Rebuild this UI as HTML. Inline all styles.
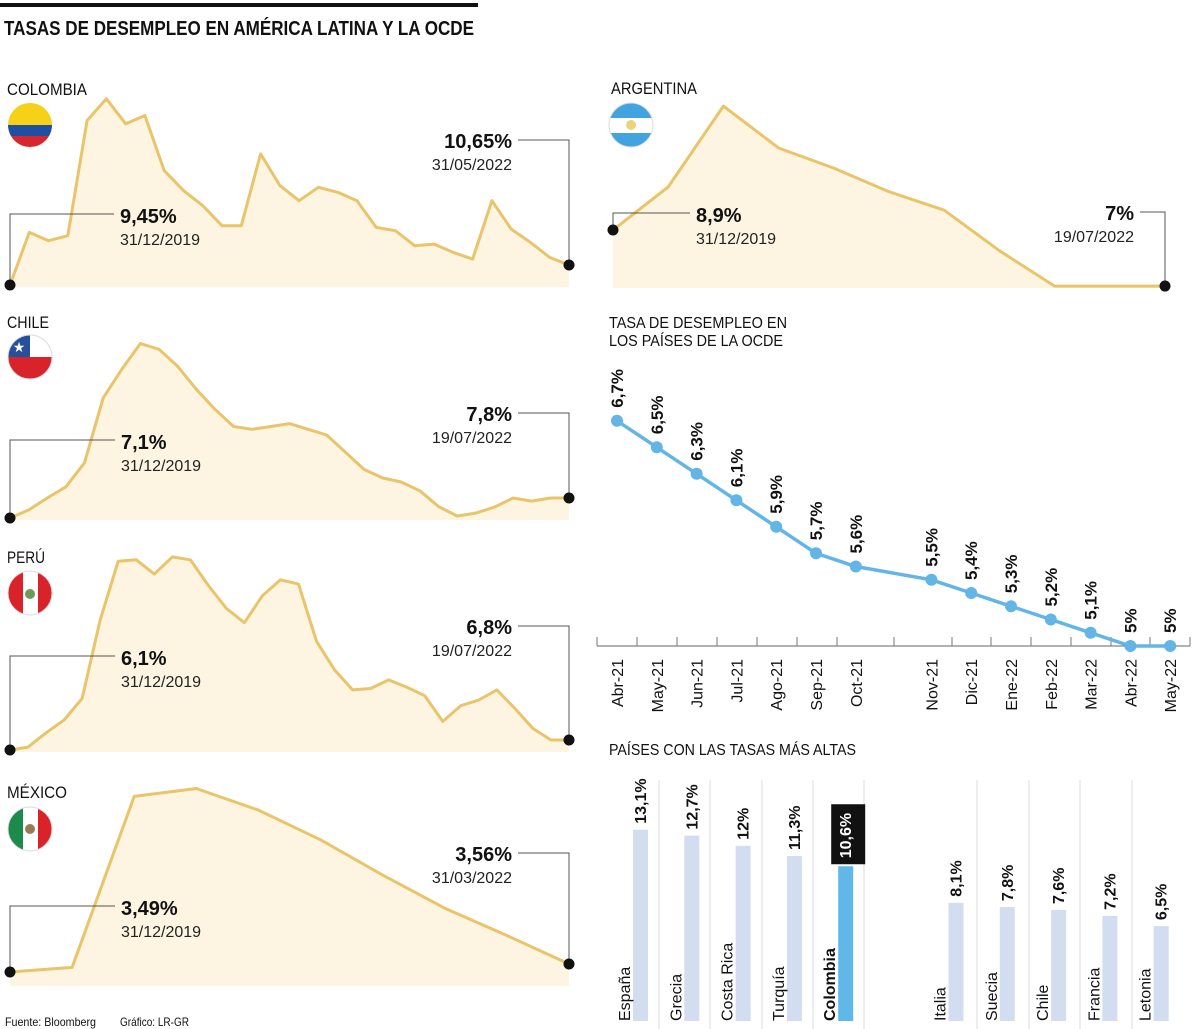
<!DOCTYPE html>
<html><head><meta charset="utf-8">
<style>
html,body{margin:0;padding:0;background:#fff;}
svg{display:block;font-family:"Liberation Sans",sans-serif;}
</style></head>
<body>
<svg id="chart" width="1200" height="1029" viewBox="0 0 1200 1029" xmlns="http://www.w3.org/2000/svg">
  <rect x="0" y="3" width="478" height="4" fill="#111"/>
  <text x="4" y="35" font-size="20" font-weight="bold" fill="#111" textLength="470" lengthAdjust="spacingAndGlyphs">TASAS DE DESEMPLEO EN AMÉRICA LATINA Y LA OCDE</text>

  <text x="7" y="95" font-size="17" fill="#111" textLength="80" lengthAdjust="spacingAndGlyphs">COLOMBIA</text>
  <text x="611" y="94" font-size="17" fill="#111" textLength="86" lengthAdjust="spacingAndGlyphs">ARGENTINA</text>
  <text x="7" y="328" font-size="17" fill="#111" textLength="42" lengthAdjust="spacingAndGlyphs">CHILE</text>
  <text x="7" y="563" font-size="17" fill="#111" textLength="38" lengthAdjust="spacingAndGlyphs">PERÚ</text>
  <text x="7" y="798" font-size="17" fill="#111" textLength="60" lengthAdjust="spacingAndGlyphs">MÉXICO</text>

  <defs>
    <clipPath id="cCol"><circle cx="30" cy="125" r="22"/></clipPath>
    <clipPath id="cArg"><circle cx="631" cy="125" r="22"/></clipPath>
    <clipPath id="cChi"><circle cx="30" cy="357" r="22"/></clipPath>
    <clipPath id="cPer"><circle cx="30" cy="593" r="22"/></clipPath>
    <clipPath id="cMex"><circle cx="30" cy="829" r="22"/></clipPath>
  </defs>
  <g clip-path="url(#cCol)">
    <rect x="8" y="103" width="44" height="22" fill="#f7d117"/><rect x="8" y="125" width="44" height="11" fill="#1f4fa3"/><rect x="8" y="136" width="44" height="11" fill="#d8262e"/>
  </g>
  <g clip-path="url(#cArg)">
    <rect x="609" y="103" width="44" height="15" fill="#41a3e0"/><rect x="609" y="118" width="44" height="15" fill="#fff"/><rect x="609" y="133" width="44" height="15" fill="#41a3e0"/>
    <circle cx="631" cy="125" r="5" fill="#ecd37b"/>
  </g>
  <circle cx="631" cy="125" r="22" fill="none" stroke="#ddd" stroke-width="1"/>
  <g clip-path="url(#cChi)">
    <rect x="8" y="335" width="44" height="22" fill="#fff"/><rect x="8" y="335" width="22" height="22" fill="#24509c"/><rect x="8" y="357" width="44" height="22" fill="#d8232a"/>
    <text x="19" y="352" font-size="14" fill="#fff" text-anchor="middle">★</text>
  </g>
  <circle cx="30" cy="357" r="22" fill="none" stroke="#ddd" stroke-width="1"/>
  <g clip-path="url(#cPer)">
    <rect x="8" y="571" width="15" height="44" fill="#d8232a"/><rect x="23" y="571" width="15" height="44" fill="#fff"/><rect x="38" y="571" width="15" height="44" fill="#d8232a"/>
    <circle cx="30" cy="594" r="5" fill="#6a9a5a"/>
  </g>
  <circle cx="30" cy="593" r="22" fill="none" stroke="#ddd" stroke-width="1"/>
  <g clip-path="url(#cMex)">
    <rect x="8" y="807" width="15" height="44" fill="#1b8a4a"/><rect x="23" y="807" width="15" height="44" fill="#fff"/><rect x="38" y="807" width="15" height="44" fill="#d8232a"/>
    <circle cx="30" cy="829" r="5" fill="#9a7a55"/>
  </g>
  <circle cx="30" cy="829" r="22" fill="none" stroke="#ddd" stroke-width="1"/>

  <g id="areas"></g>
  <g id="ocde"></g>
  <g id="bars"></g>

  <text x="609" y="328" font-size="16" fill="#111" textLength="178" lengthAdjust="spacingAndGlyphs">TASA DE DESEMPLEO EN</text>
  <text x="609" y="346" font-size="16" fill="#111" textLength="174" lengthAdjust="spacingAndGlyphs">LOS PAÍSES DE LA OCDE</text>
  <text x="609" y="755" font-size="16" fill="#111" textLength="247" lengthAdjust="spacingAndGlyphs">PAÍSES CON LAS TASAS MÁS ALTAS</text>

  <text x="5" y="1026" font-size="12" fill="#111" textLength="91" lengthAdjust="spacingAndGlyphs">Fuente: Bloomberg</text>
  <text x="120" y="1026" font-size="12" fill="#111" textLength="69" lengthAdjust="spacingAndGlyphs">Gráfico: LR-GR</text>
</svg>
<script>
const NS = "http://www.w3.org/2000/svg";
function mk(tag, attrs, parent, txt){
  const e = document.createElementNS(NS, tag);
  for (const k in attrs) e.setAttribute(k, attrs[k]);
  if (txt !== undefined) e.textContent = txt;
  parent.appendChild(e);
  return e;
}

const colombiaValues = [9.45,12.6,12.1,12.4,19.3,20.6,19.1,19.6,16.3,15.1,14.2,13.0,13.0,17.3,15.4,14.5,15.3,15.0,14.5,12.9,12.7,11.8,11.9,11.4,11.0,14.5,12.8,12.0,11.1,10.65];
const argentinaValues = [8.9,10.36,13.1,11.68,11.0,10.2,9.57,8.2,7.0,7.0,7.0];
const chileValues = [7.1,7.38,7.8,8.19,9.03,11.3,12.3,13.2,13.0,12.4,11.6,10.9,10.3,10.2,10.3,10.4,10.2,10.0,9.4,8.8,8.5,8.36,8.05,7.5,7.17,7.27,7.48,7.8,7.69,7.8,7.8];
const peruValues = [6.1,6.3,7.3,8.2,9.7,15.2,19.3,19.4,18.4,19.6,19.4,17.6,16.0,15.0,16.9,18.0,17.7,13.7,11.7,10.3,10.4,11.0,10.5,9.9,8.1,9.2,9.6,10.3,9.0,7.6,6.8,6.8];
const mexicoValues = [3.49,3.53,5.03,5.10,4.91,4.65,4.34,4.05,3.81,3.56];
const panelLabels = [
  ["9,45%","31/12/2019","10,65%","31/05/2022"],
  ["8,9%","31/12/2019","7%","19/07/2022"],
  ["7,1%","31/12/2019","7,8%","19/07/2022"],
  ["6,1%","31/12/2019","6,8%","19/07/2022"],
  ["3,49%","31/12/2019","3,56%","31/03/2022"]
];

const panels = [
  {name:"colombia", vals:colombiaValues, x0:10, x1:569, base:287, yRef:285, k:16.7, sY:214, sX:114, eY:140, eX:518},
  {name:"argentina", vals:argentinaValues, x0:613, x1:1165, base:288, yRef:230, k:29.5, sY:213, sX:690, eY:212, eX:1140},
  {name:"chile", vals:chileValues, x0:10, x1:569, base:520, yRef:518, k:28.6, sY:440, sX:115, eY:413, eX:518},
  {name:"peru", vals:peruValues, x0:10, x1:569, base:752, yRef:750, k:14.3, sY:656, sX:115, eY:626, eX:518},
  {name:"mexico", vals:mexicoValues, x0:10, x1:569, base:986, yRef:972, k:114, sY:906, sX:115, eY:853, eX:518}
];
const areas = document.getElementById("areas");
panels.forEach((p, pi) => {
  const n = p.vals.length;
  const xs = i => p.x0 + (p.x1 - p.x0) * i / (n - 1);
  const ys = v => p.yRef - (v - p.vals[0]) * p.k;
  const g = mk("g", {}, areas);
  
  
  let pts = p.vals.map((v,i) => xs(i).toFixed(1) + "," + ys(v).toFixed(1));
  const area = mk("polygon", {points: p.x0+","+p.base+" "+pts.join(" ")+" "+p.x1+","+p.base, fill:"#fdf5e1"}, g);
  
  
  const line = mk("polyline", {points: pts.join(" "), fill:"none", stroke:"#e9c46a", "stroke-width":3, "stroke-linejoin":"round"}, g);
  
  
  const sx = xs(0), sy = ys(p.vals[0]), ex = xs(n-1), ey = ys(p.vals[n-1]);
  const c1 = mk("polyline", {points: `${sx},${sy} ${sx},${p.sY} ${p.sX},${p.sY}`, fill:"none", stroke:"#555", "stroke-width":1}, g);
  
  
  const c2 = mk("polyline", {points: `${ex},${ey} ${ex},${p.eY} ${p.eX},${p.eY}`, fill:"none", stroke:"#555", "stroke-width":1}, g);
  
  
  const d1 = mk("circle", {cx:sx, cy:sy, r:5.5, fill:"#111"}, g);
  
  
  const d2 = mk("circle", {cx:ex, cy:ey, r:5.5, fill:"#111"}, g);
  
  
  const L = panelLabels[pi];
  const t1 = mk("text", {x:p.sX+6, y:p.sY+9, "font-size":20, "font-weight":"bold", fill:"#111"}, g, L[0]);
  
  
  const t2 = mk("text", {x:p.sX+6, y:p.sY+31, "font-size":16, fill:"#222"}, g, L[1]);
  
  
  const t3 = mk("text", {x:p.eX-6, y:p.eY+8, "font-size":20, "font-weight":"bold", fill:"#111", "text-anchor":"end"}, g, L[2]);
  
  
  const t4 = mk("text", {x:p.eX-6, y:p.eY+30, "font-size":16, fill:"#222", "text-anchor":"end"}, g, L[3]);
  
  
});

const ocdeMonths = ["Abr-21","May-21","Jun-21","Jul-21","Ago-21","Sep-21","Oct-21","Nov-21","Dic-21","Ene-22","Feb-22","Mar-22","Abr-22","May-22"];
const ocdeSlot = [0,1,2,3,4,5,6,7.9,8.9,9.9,10.9,11.9,12.9,13.9];
const ocdeValues = [6.7,6.5,6.3,6.1,5.9,5.7,5.6,5.5,5.4,5.3,5.2,5.1,5.0,5.0];
const ocdeLabels = ["6,7%","6,5%","6,3%","6,1%","5,9%","5,7%","5,6%","5,5%","5,4%","5,3%","5,2%","5,1%","5%","5%"];
const ocde = document.getElementById("ocde");
const ox = s => 617 + s * 39.8;
const oy = v => 646 - (v - 5) * 132.5;
const axis = mk("line", {x1:597, y1:646, x2:1190, y2:646, stroke:"#666", "stroke-width":1}, ocde);


const tickXs = [597,637,677,717,757,797,837,894,952,991,1031,1071,1111,1150,1190];
tickXs.forEach(tx => {
  const t = mk("line", {x1:tx, y1:637, x2:tx, y2:646, stroke:"#777", "stroke-width":1}, ocde);
  
  
});
const opl = mk("polyline", {points: ocdeValues.map((v,i)=>ox(ocdeSlot[i]).toFixed(1)+","+oy(v).toFixed(1)).join(" "), fill:"none", stroke:"#62b5e5", "stroke-width":3.5}, ocde);


ocdeValues.forEach((v,i) => {
  const x = ox(ocdeSlot[i]), y = oy(v);
  const c = mk("circle", {cx:x, cy:y, r:6, fill:"#62b5e5"}, ocde);
  
  
  const lt = mk("text", {x:0, y:0, transform:`translate(${x+6},${y-13}) rotate(-90)`, "font-size":17, "font-weight":"bold", fill:"#111"}, ocde, ocdeLabels[i]);
  
  
  const mt = mk("text", {x:0, y:0, transform:`translate(${x+6},659) rotate(-90)`, "font-size":16, fill:"#111", "text-anchor":"end"}, ocde, ocdeMonths[i]);
  
  
});

const barCountries = ["España","Grecia","Costa Rica","Turquía","Colombia","Italia","Suecia","Chile","Francia","Letonia"];
const barValues = [13.1,12.7,12.0,11.3,10.6,8.1,7.8,7.6,7.2,6.5];
const barLabels = ["13,1%","12,7%","12%","11,3%","10,6%","8,1%","7,8%","7,6%","7,2%","6,5%"];
const barSlot = [0,1,2,3,4,6.15,7.15,8.15,9.15,10.15];
const bars = document.getElementById("bars");
const bx = s => 633 + s * 51.3;
const bBase = 1021;
const bh = v => v * 14.6;
const sepXs = [659,710,762,813,864,977,1029,1080,1132];
sepXs.forEach(sx => {
  const l = mk("line", {x1:sx, y1:780, x2:sx, y2:1029, stroke:"#ddd", "stroke-width":1}, bars);
  
  
});
barValues.forEach((v,i) => {
  const x = bx(barSlot[i]), h = bh(v), top = bBase - h;
  const isCol = barCountries[i] === "Colombia";
  const r = mk("rect", {x:x, y:top, width:15, height:h, fill: isCol ? "#5fb8e8" : "#d3ddf0"}, bars);
  
  
  if (isCol) {
    const bg = mk("rect", {x:x-7, y:top-62, width:34, height:60, fill:"#111"}, bars);
    
    
  }
  const vt = mk("text", {x:0, y:0, transform:`translate(${x+13},${top-(isCol?8:6)}) rotate(-90)`, "font-size":16, "font-weight":"bold", fill: isCol ? "#fff" : "#111"}, bars, barLabels[i]);
  
  
  const ct = mk("text", {x:0, y:0, transform:`translate(${x-3},${bBase}) rotate(-90)`, "font-size":16, "font-weight": isCol ? "bold" : "normal", fill:"#111"}, bars, barCountries[i]);
  
  
});
</script>
</body></html>
